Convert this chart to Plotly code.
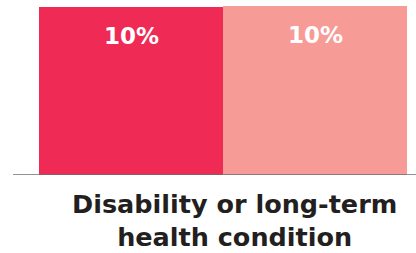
import plotly.graph_objects as go

category = "Disability or long-term<br>health condition"
series_names = ["Group A", "Group B"]
values = [9.95, 10.0]
labels = ["10%", "10%"]
colors = ["#EF2A55", "#F69B96"]

FONT = "DejaVu Sans"

fig = go.Figure()
for name, v, lab, c in zip(series_names, values, labels, colors):
    fig.add_trace(go.Bar(x=[name], y=[v], marker=dict(color=c, line=dict(width=0)),
                         hoverinfo="skip", showlegend=False))
    fig.add_annotation(x=name, y=v, yref="y", xref="x", text=lab, showarrow=False,
                       yanchor="middle", yshift=-29,
                       font=dict(family=FONT, size=23, color="white", weight=700))

plot_l, plot_r = 39, 407
W = 416
fig.add_shape(type="line", xref="paper", yref="y",
              x0=(13 - plot_l) / (plot_r - plot_l), x1=(W - plot_l) / (plot_r - plot_l),
              y0=0, y1=0, line=dict(color="#6E6E6E", width=1.3))

fig.add_annotation(x=(234 - plot_l) / (plot_r - plot_l), xref="paper", y=0, yref="y",
                   yanchor="top", yshift=-12, showarrow=False, text=category,
                   font=dict(family=FONT, size=25.5, color="#231F20", weight=700),
                   align="center")

fig.update_layout(
    width=416, height=253, margin=dict(l=plot_l, r=W - plot_r, t=6, b=78),
    bargap=0, plot_bgcolor="white", paper_bgcolor="white",
    xaxis=dict(visible=False),
    yaxis=dict(visible=False, range=[0, 10]),
)
fig.write_html("out.html", config={"displayModeBar": False},
               post_script="document.body.style.margin='0';")
